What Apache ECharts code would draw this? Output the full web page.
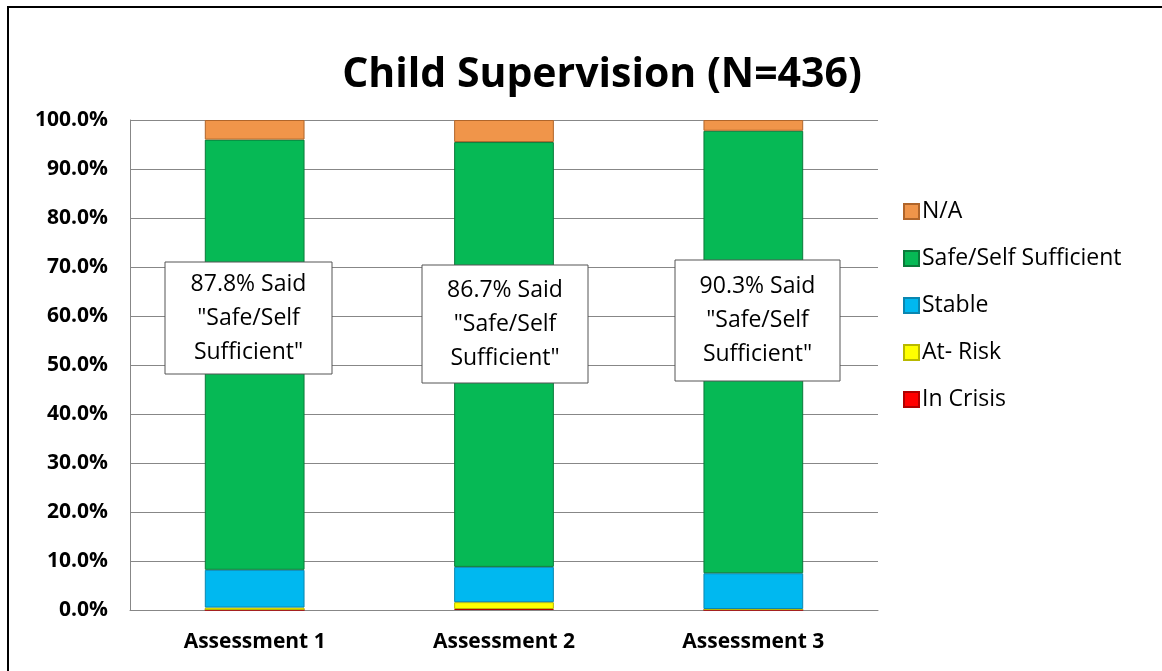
<!DOCTYPE html>
<html>
<head>
<meta charset="utf-8">
<script src="https://cdn.jsdelivr.net/npm/echarts@6/dist/echarts.min.js"></script>
<style>
  html, body { margin: 0; padding: 0; background: #fff; }
  #main { width: 1162px; height: 671px; }
</style>
</head>
<body>
<div id="main"></div>
<script>
var categories = ['Assessment 1', 'Assessment 2', 'Assessment 3'];
var inCrisis = [0.0, 0.2, 0.0];
var atRisk = [0.5, 1.4, 0.2];
var stable = [7.7, 7.2, 7.3];
var safe = [87.8, 86.7, 90.3];
var notApplicable = [4.0, 4.5, 2.2];
var yTicks = [0, 10, 20, 30, 40, 50, 60, 70, 80, 90, 100];

var font = '"Open Sans", "Noto Sans", sans-serif';

var chartDom = document.getElementById('main');
var myChart = echarts.init(chartDom);
var option;

function barSeries(name, data, color, border) {
    return {
        name: name,
        type: 'bar',
        stack: 'total',
        barWidth: '40%',
        data: data,
        itemStyle: {
            color: color,
            borderColor: border,
            borderWidth: 1
        }
    };
}

// annotation boxes (text built from the safe values)
var boxes = [
    { x: 165, y: 262, w: 167, h: 112 },
    { x: 422, y: 265, w: 166, h: 118 },
    { x: 675, y: 260, w: 165, h: 121 }
];
var graphics = [{
    type: 'rect',
    shape: { x: 8, y: 7, width: 1200, height: 700 },
    style: { fill: 'none', stroke: '#000', lineWidth: 2 },
    z: 0
}];
boxes.forEach(function (b, i) {
    graphics.push({
        type: 'rect',
        shape: { x: b.x, y: b.y, width: b.w, height: b.h },
        style: { fill: '#fff', stroke: '#555', lineWidth: 1 },
        z: 100
    });
    graphics.push({
        type: 'text',
        x: b.x + b.w / 2,
        y: b.y + b.h / 2,
        style: {
            text: safe[i].toFixed(1) + '% Said\n"Safe/Self\nSufficient"',
            font: '23px ' + font,
            fill: '#000',
            align: 'center',
            verticalAlign: 'middle',
            lineHeight: 34
        },
        z: 101
    });
});

option = {
    backgroundColor: '#fff',
    animation: false,
    title: {
        text: 'Child Supervision (N=436)',
        left: 597,
        textAlign: 'center',
        top: 50,
        textStyle: { fontFamily: font, fontSize: 41, fontWeight: 'bold', color: '#000' }
    },
    legend: {
        orient: 'vertical',
        left: 898,
        top: 195,
        icon: 'rect',
        itemWidth: 15,
        itemHeight: 15,
        itemGap: 24,
        data: ['N/A', 'Safe/Self Sufficient', 'Stable', 'At- Risk', 'In Crisis'],
        textStyle: { fontFamily: font, fontSize: 23, color: '#000', padding: [0, 0, 0, -2] }
    },
    grid: { left: 130, right: 284, top: 120, bottom: 61, containLabel: false },
    xAxis: {
        type: 'category',
        data: categories,
        axisTick: { show: false },
        axisLine: { lineStyle: { color: '#878787' } },
        axisLabel: { fontFamily: font, fontSize: 21, fontWeight: 'bold', color: '#000', margin: 22 }
    },
    yAxis: {
        type: 'value',
        min: yTicks[0],
        max: yTicks[yTicks.length - 1],
        interval: 10,
        axisLine: { show: true, lineStyle: { color: '#878787' } },
        axisTick: { show: false },
        splitLine: { lineStyle: { color: '#878787' } },
        axisLabel: {
            fontFamily: font, fontSize: 21, fontWeight: 'bold', color: '#000', margin: 22,
            formatter: function (v) { return v.toFixed(1) + '%'; }
        }
    },
    graphic: graphics,
    series: [
        barSeries('In Crisis', inCrisis, '#ff0000', '#b00000'),
        barSeries('At- Risk', atRisk, '#ffff00', '#b8b800'),
        barSeries('Stable', stable, '#00b8f0', '#0a86b0'),
        barSeries('Safe/Self Sufficient', safe, '#06b955', '#0a7a3a'),
        barSeries('N/A', notApplicable, '#f0954a', '#b0652a')
    ]
};

option && myChart.setOption(option);
</script>
</body>
</html>
